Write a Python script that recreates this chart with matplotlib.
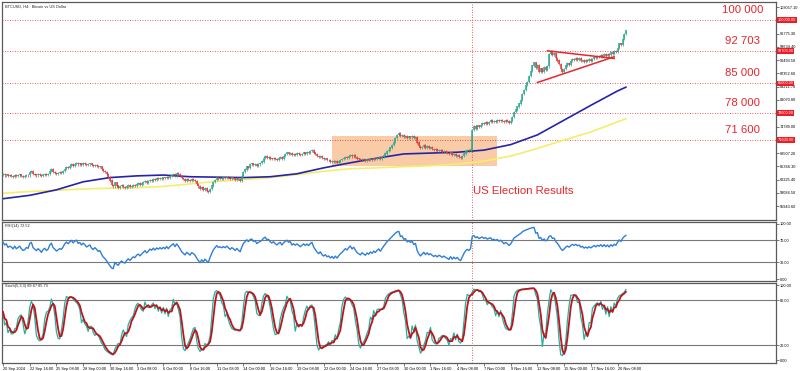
import numpy as np
import pandas as pd
import matplotlib.pyplot as plt
from matplotlib.patches import Rectangle

plt.rcParams['font.family'] = ['Liberation Sans', 'DejaVu Sans']

# H4 closes, thousands of USD (one value per bar)
closes_k = [
    63.5, 63.2, 63.4, 63.0, 63.2, 63.1, 62.9, 63.3, 63.0, 63.2, 63.4, 63.1, 62.9, 63.0, 63.3, 63.2, 64.0,
    64.2, 63.6, 63.4, 63.2, 63.5, 63.3, 63.0, 63.4, 63.6, 63.3, 63.5, 64.2, 64.6, 64.0, 63.8, 63.5, 63.7, 63.9,
    63.8, 64.2, 64.8, 65.2, 65.0, 65.4, 65.8, 65.5, 65.9, 66.2, 65.8, 66.0, 65.7, 66.1, 65.9, 65.6, 65.8, 66.0,
    65.6, 65.4, 65.7, 65.5, 65.2, 65.3,
    64.8, 64.3, 64.0, 63.5, 62.8, 62.0, 61.0, 60.6, 61.5, 60.8, 60.3, 60.7, 61.0, 60.5, 60.2, 60.6, 60.9, 60.4,
    60.7, 61.0, 60.8, 61.2, 61.4, 61.0,
    61.3, 61.6, 61.9, 61.5, 61.8, 62.2, 62.0, 62.4, 62.1, 62.5, 62.3, 62.6, 62.4, 62.7, 62.5, 62.9, 62.6, 63.0,
    63.3, 63.6, 63.2, 63.8, 63.5, 63.1,
    62.6, 62.3, 62.0, 62.4, 62.2, 61.9, 62.3, 62.1, 61.8, 61.2, 60.6, 60.0, 60.4, 59.8, 60.2, 59.6, 59.2, 60.0,
    60.8, 61.6, 62.2, 62.8, 62.4, 62.6,
    62.4, 62.7, 62.5, 62.9, 62.6, 62.3, 62.7, 62.5, 62.2, 62.6, 62.3, 62.0, 63.0, 64.0, 64.6, 65.3, 65.0, 65.8,
    66.0, 65.6, 65.9, 65.4, 65.8, 66.1,
    66.5, 67.3, 67.8, 67.4, 67.6, 67.2, 67.0, 67.4, 67.1, 66.9, 67.3, 67.6, 67.2, 67.8, 68.2, 68.6, 68.3, 68.5,
    68.0, 68.3, 68.1, 68.4, 68.2, 68.0,
    68.3, 68.6, 68.4, 68.7, 68.5, 68.9, 69.2, 68.6, 68.2, 67.8, 67.5, 67.8, 67.3, 67.0, 67.2, 66.8, 66.9, 66.5,
    66.7, 66.3, 66.6, 66.2, 66.5, 66.8,
    67.0, 67.3, 67.6, 67.4, 67.8, 68.1, 67.7, 68.0, 67.6, 67.2, 67.0, 66.8, 67.1, 66.9, 66.7, 67.0, 66.8, 67.1,
    66.9, 67.2, 67.0, 67.3, 67.5, 67.2,
    67.6, 68.0, 68.4, 68.9, 69.3, 69.8, 70.4, 71.2, 72.0, 72.8, 73.2, 72.5, 72.8, 72.3, 72.6, 72.1, 72.4, 72.2,
    72.5, 72.0, 72.3, 71.0, 70.2, 69.6,
    70.0, 70.4, 69.8, 70.2, 69.7, 69.9, 69.5, 69.2, 69.4, 69.0, 69.3, 69.1, 68.8, 69.0, 68.7, 68.5, 68.2, 68.6,
    68.0, 68.3, 67.9, 68.1, 67.6, 67.3, 67.8, 68.4, 68.9, 69.2, 69.0, 69.4,
    74.0, 74.8, 74.3, 75.0, 74.6, 75.2, 75.6, 75.3, 75.8, 75.5, 75.9, 76.2, 75.8, 76.1, 75.9, 76.3, 76.0, 76.4,
    76.1, 75.8, 76.2, 76.0, 75.7, 76.1,
    77.0, 78.2, 78.8, 79.5, 80.2, 81.0, 82.4, 83.5, 84.6, 85.4, 86.8, 88.0, 89.2, 89.9, 88.6, 89.3, 87.8, 88.5,
    87.6, 88.8, 88.2, 89.0, 92.0, 92.6,
    91.8, 92.1, 91.0, 90.4, 89.5, 88.4, 87.6, 88.3, 89.2, 89.8, 89.4, 90.2, 90.8, 90.5, 91.0, 90.6, 90.9, 90.3,
    90.6, 90.1, 90.5, 90.2, 90.7, 90.4,
    90.8, 91.2, 90.9, 91.4, 91.2, 91.7, 91.3, 91.9, 91.5, 92.0, 91.6, 92.3, 92.0, 92.6, 92.4, 93.4, 94.4, 94.1,
    95.5, 96.6, 97.5,
]
first_open_k = 63.3
wick = 250  # USD, small shadow drawn above/below each body

# moving averages read at every 16th bar (thousands)
ma_bars = [0, 16, 32, 48, 64, 80, 96, 112, 128, 144, 160, 176, 192, 208, 224, 240, 256, 272, 288, 304,
           320, 336, 352, 368, 373]
ma_blue_k = [57.7, 58.5, 59.8, 61.7, 62.7, 63.1, 63.3, 62.9, 62.8, 62.7, 62.9, 63.6, 65.0, 66.2, 67.3,
             68.3, 68.5, 68.7, 69.2, 70.5, 72.8, 76.3, 79.8, 83.2, 84.1]
ma_yellow_k = [59.0, 59.4, 59.7, 60.0, 60.2, 60.3, 60.6, 61.2, 61.8, 62.2, 62.7, 63.4, 64.2, 64.8, 65.0,
               65.3, 65.5, 65.9, 66.6, 67.8, 69.6, 71.6, 73.5, 75.9, 76.6]

levels = [100000, 92703, 85000, 78000, 71600]
level_titles = ['100 000', '92 703', '85 000', '78 000', '71 600']

# right-hand price scale (labels hidden behind the level boxes are left out)
price_ticks = [55943.60, 59084.50, 62225.40, 65366.30, 68507.20, 74789.00, 81070.80,
               84211.70, 87352.60, 90493.50, 93634.40, 96775.30, 103057.10]

tick_labels = ['20 Sep 2024', '22 Sep 16:00', '25 Sep 08:00', '28 Sep 00:00', '30 Sep 16:00', '3 Oct 08:00',
               '6 Oct 00:00', '8 Oct 16:00', '11 Oct 08:00', '14 Oct 00:00', '16 Oct 16:00', '19 Oct 08:00',
               '22 Oct 00:00', '24 Oct 16:00', '27 Oct 08:00', '30 Oct 00:00', '1 Nov 16:00', '4 Nov 08:00',
               '7 Nov 00:00', '9 Nov 16:00', '12 Nov 08:00', '15 Nov 00:00', '17 Nov 16:00', '20 Nov 08:00']

election_bar = 280.6
box_bars = (197, 296)
box_prices = (65440, 72540)
tri_top = ([326, 366], [92700, 90900])
tri_bottom = ([320, 366], [85200, 91300])

# ---- derived series
close = pd.Series(closes_k) * 1000
open_ = close.shift(1)
open_.iloc[0] = first_open_k * 1000
x = np.arange(len(close))

# Wilder RSI(14), seeded so the first reading sits near the chart's left edge value
delta = close.diff().fillna(0).to_numpy()
avg_g, avg_l = 200.0, 100.0
rsi = []
for d in delta:
    avg_g = (avg_g * 13 + max(d, 0)) / 14
    avg_l = (avg_l * 13 + max(-d, 0)) / 14
    rsi.append(100 - 100 / (1 + avg_g / avg_l))

hi = np.maximum(open_, close) + wick
lo = np.minimum(open_, close) - wick
hh = hi.rolling(5, min_periods=1).max()
ll = lo.rolling(5, min_periods=1).min()
k_line = (close - ll).rolling(3, min_periods=1).sum() / (hh - ll).rolling(3, min_periods=1).sum() * 100
d_line = k_line.rolling(3, min_periods=1).mean()

# ---- layout
W, H = 800, 371
fig = plt.figure(figsize=(8, 3.71), dpi=100)
fig.patch.set_facecolor('white')


def pix_axes(top, bottom, left=2, right=776):
    return fig.add_axes([left / W, 1 - bottom / H, (right - left) / W, (bottom - top) / H])


ax = pix_axes(2, 220)
ax_rsi = pix_axes(222, 281)
ax_st = pix_axes(283, 363)

xmin, xmax = -0.6, 462.9
red = '#e8262b'
small = 2.8

for a in (ax, ax_rsi, ax_st):
    a.set_xlim(xmin, xmax)
    a.yaxis.tick_right()
    a.tick_params(axis='y', labelsize=small, length=2, width=0.5, color='#444444', pad=1)
    a.tick_params(axis='x', length=0, labelbottom=False)
    for s in a.spines.values():
        s.set_color('#5a5a5a')
        s.set_linewidth(0.9)
    a.axvline(election_bar, color=red, ls=(0, (1, 2)), lw=0.6, zorder=1)

# main panel
ax.set_ylim(52660, 104260)
ax.set_yticks(price_ticks)
ax.set_yticklabels([f'{v:.2f}' for v in price_ticks])

ax.add_patch(Rectangle((box_bars[0], box_prices[0]), box_bars[1] - box_bars[0], box_prices[1] - box_prices[0],
                       facecolor='#f8c298', edgecolor='none', alpha=0.85, zorder=0.5))

for lv in levels:
    ax.axhline(lv, color=red, ls=(0, (1, 2)), lw=0.6, zorder=1)
    ax.text(1.002, lv, f'{lv:.2f}', transform=ax.get_yaxis_transform(), fontsize=small, color='white',
            va='center', ha='left', clip_on=False, zorder=10,
            bbox=dict(facecolor='#ee1c24', edgecolor='none', pad=0.6))

ax.plot(ma_bars, np.array(ma_yellow_k) * 1000, color='#f4ee6a', lw=1.2, zorder=2)
ax.plot(ma_bars, np.array(ma_blue_k) * 1000, color='#2424a8', lw=1.2, zorder=2)

up = close >= open_
colors = np.where(up, '#2aa88f', '#e0393b')
ax.vlines(x, lo, hi, colors=colors, lw=0.5, zorder=3)
ax.vlines(x, lo + wick, hi - wick + 40, colors=colors, lw=1.1, zorder=3)

ax.plot(*tri_top, color=red, lw=1.1, zorder=4)
ax.plot(*tri_bottom, color=red, lw=1.1, zorder=4)

for lv, title in zip(levels, level_titles):
    ax.text(443, lv + 2400, title, color=red, fontsize=8.2, ha='center', va='center', zorder=5)

ax.text(281.4, 59524, 'US Election Results', color=red, fontsize=8.2, ha='left', va='center', zorder=5)
ax.text(0.004, 0.99, 'BTCUSD, H4:  Bitcoin vs US Dollar', transform=ax.transAxes, fontsize=small,
        va='top', ha='left', color='#222222')

# RSI panel
ax_rsi.set_ylim(-3.5, 103)
ax_rsi.set_yticks([0, 30, 70, 100])
ax_rsi.set_yticklabels(['0.00', '30.00', '70.00', '100.00'])
for lv in (30, 70):
    ax_rsi.axhline(lv, color='#7a7a7a', lw=0.8, zorder=1)
ax_rsi.plot(x, rsi, color='#2f7fd8', lw=1.0, zorder=3)
ax_rsi.text(0.004, 0.97, 'RSI(14) 72.52', transform=ax_rsi.transAxes, fontsize=small, va='top', ha='left',
            color='#222222')

# Stochastic panel
ax_st.set_ylim(-4, 103)
ax_st.set_yticks([0, 20, 80, 100])
ax_st.set_yticklabels(['0.00', '20.00', '80.00', '100.00'])
for lv in (20, 80):
    ax_st.axhline(lv, color='#7a7a7a', lw=0.8, zorder=1)
ax_st.plot(x, k_line, color='#20b2a0', lw=0.9, zorder=3)
ax_st.plot(x, d_line, color='#c0141c', lw=1.3, zorder=4)
ax_st.text(0.004, 0.985, 'Stoch(5,3,3) 89.67 85.73', transform=ax_st.transAxes, fontsize=small, va='top',
           ha='left', color='#222222')

tick_bars = list(range(0, 16 * len(tick_labels), 16))
ax_st.set_xticks(tick_bars)
ax_st.set_xticklabels(tick_labels)
ax_st.tick_params(axis='x', labelbottom=True, length=2, width=0.5, color='#444444', labelsize=small, pad=1)
for lab in ax_st.get_xticklabels():
    lab.set_horizontalalignment('left')

fig.savefig('out.png', dpi=100, facecolor='white')
